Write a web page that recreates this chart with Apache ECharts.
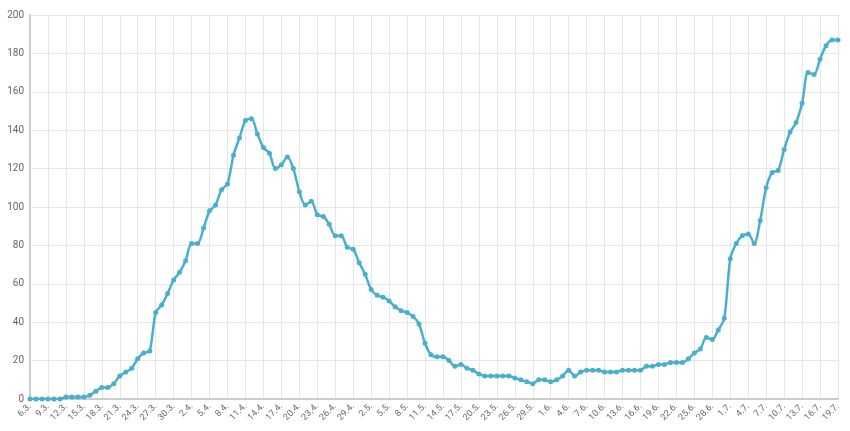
<!DOCTYPE html>
<html>
<head>
<meta charset="utf-8">
<script src="https://cdn.jsdelivr.net/npm/echarts@6/dist/echarts.min.js"></script>
<style>html,body{margin:0;padding:0;background:#fff}#chart{width:850px;height:431px}</style>
</head>
<body>
<div id="chart"></div>
<script>
// daily dates 6.3. .. 19.7.
var monthLengths = [[3, 6, 31], [4, 1, 30], [5, 1, 31], [6, 1, 30], [7, 1, 19]];
var categories = [];
monthLengths.forEach(function(m){
	for (var d = m[1]; d <= m[2]; d++) categories.push(d + '.' + m[0] + '.');
});

var values = [
	0,0,0,0,0,0,1,1,1,1,2,4,6,6,8,12,14,16,21,24,25,45,49,55,62,66,72,
	81,81,89,98,101,109,112,127,136,145,
	146,138,131,128,120,122,126,120,108,101,
	103,96,95,91,85,85,79,78,71,65,
	57,54,53,51,48,46,45,43,39,29,
	23,22,22,20,17,18,16,15,13,12,
	12,12,12,12,11,10,9,8,10,10,
	9,10,12,15,12,14,15,15,15,14,
	14,14,15,15,15,15,17,17,18,18,
	19,19,19,21,24,26,32,31,36,42,
	73,81,85,86,81,93,110,118,119,130,
	139,144,154,170,169,177,184,187,187
];

var myChart = echarts.init(document.getElementById('chart'));
var option = {
	animation: false,
	grid: { left: 30, right: 12, top: 15, bottom: 32 },
	xAxis: {
		type: 'category',
		data: categories,
		boundaryGap: false,
		axisLine: { lineStyle: { color: '#ccc', width: 2 } },
		axisTick: { show: false },
		axisLabel: { interval: 2, rotate: 45, color: '#666', fontSize: 9, fontFamily: 'Roboto', margin: 6 },
		splitLine: { show: true, interval: 2, lineStyle: { color: '#e6e6e6' } }
	},
	yAxis: {
		type: 'value',
		min: 0, max: 200, interval: 20,
		axisLine: { show: true, lineStyle: { color: '#ccc', width: 2 } },
		axisTick: { show: false },
		axisLabel: { color: '#666', fontSize: 10, fontFamily: 'Roboto', margin: 6 },
		splitLine: { lineStyle: { color: '#e6e6e6' } }
	},
	series: [{
		type: 'line',
		data: values,
		smooth: 0.3,
		symbol: 'circle',
		symbolSize: 5,
		showAllSymbol: true,
		itemStyle: { color: '#4aafcd' },
		lineStyle: { color: '#4aafcd', width: 2.5 }
	}]
};
myChart.setOption(option);
</script>
</body>
</html>
